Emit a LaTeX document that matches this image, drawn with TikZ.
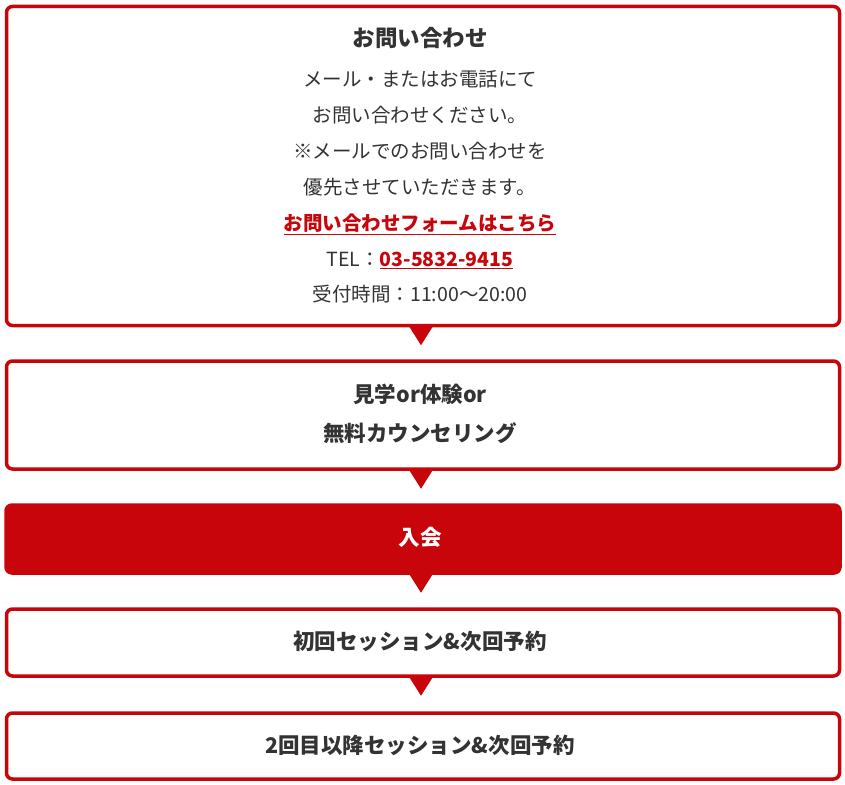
\documentclass[tikz,border=0pt]{standalone}
\usepackage{fontspec}
\setmainfont{Noto Sans CJK JP}
\usetikzlibrary{calc}
\definecolor{brand}{RGB}{200,5,10}
\definecolor{ink}{RGB}{51,51,51}
\tikzset{
  box/.style={draw=brand, line width=3.5pt, rounded corners=6pt, fill=white, inner sep=0pt},
  filledbox/.style={box, fill=brand},
  txt/.style={inner sep=0pt, text=ink, text height=0.88em, text depth=0.12em, font=\fontsize{19.5pt}{22pt}\selectfont},
  head/.style={txt, font=\fontsize{22.5pt}{25pt}\selectfont\bfseries},
  btxt/.style={txt, font=\fontsize{21.5pt}{24pt}\selectfont\bfseries},
  linktxt/.style={txt, text=brand, font=\fontsize{19.5pt}{22pt}\selectfont\bfseries},
  tri/.style={fill=brand}
}
\newcommand{\lk}[1]{\underline{#1}}
\begin{document}
\begin{tikzpicture}[x=1pt,y=-1pt]
\useasboundingbox (0,0) rectangle (845,784);
% boxes
\node[box, minimum width=833pt, minimum height=319pt] (b1) at (423,166) {};
\node[box, minimum width=833pt, minimum height=108pt] (b2) at (423,415) {};
\node[filledbox, minimum width=834pt, minimum height=68pt] (b3) at (423,539) {};
\node[box, minimum width=833pt, minimum height=67pt] (b4) at (423,642.5) {};
\node[box, minimum width=833pt, minimum height=66pt] (b5) at (423,746) {};
% arrows between boxes
\foreach \a/\b in {b1/b2,b2/b3,b3/b4,b4/b5}{
  \fill[tri] ($(\a.south)+(-14,-1)$) -- ($(\a.south)+(10,-1)$) -- ($(\a.south)+(-2,18)$) -- cycle;
}
% box 1 text
\node[head] (t1) at (420,43) {お問い合わせ};
\node[txt] (t2) at (420,83) {メール・またはお電話にて};
\node[txt] (t3) at (420,119) {お問い合わせください。};
\node[txt] (t4) at (420,155) {※メールでのお問い合わせを};
\node[txt] (t5) at (420,191) {優先させていただきます。};
\node[linktxt] (t6) at (420,227) {\lk{お問い合わせフォームはこちら}};
\node[txt] (t7) at (420,263) {TEL：\textcolor{brand}{\bfseries\lk{03-5832-9415}}};
\node[txt] (t8) at (420,298) {受付時間：11:00～20:00};
% box 2 text
\node[btxt] (u1) at (420,399) {見学or体験or};
\node[btxt] (u2) at (420,438) {無料カウンセリング};
% box 3 text
\node[btxt, text=white] (v1) at (420,542) {入会};
% box 4 text
\node[btxt] (w1) at (420,646) {初回セッション\&次回予約};
% box 5 text
\node[btxt] (x1) at (420,750) {2回目以降セッション\&次回予約};
\end{tikzpicture}
\end{document}
